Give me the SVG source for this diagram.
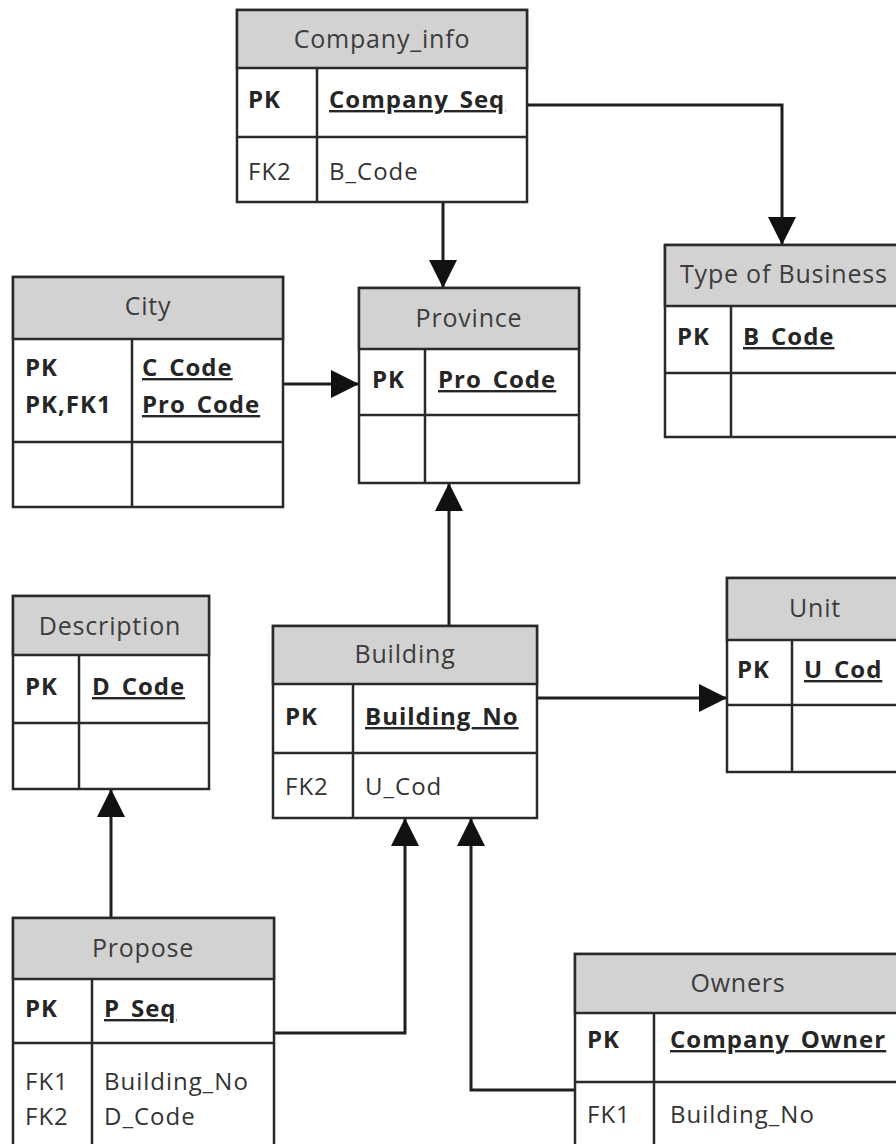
<svg xmlns="http://www.w3.org/2000/svg" width="896" height="1144" viewBox="0 0 896 1144">
  <style>
    .frame { fill: #ffffff; stroke: #2a2a2a; stroke-width: 2.5; }
    .head { fill: #d2d2d2; stroke: #2a2a2a; stroke-width: 2.5; }
    .div { stroke: #2a2a2a; stroke-width: 2.5; fill: none; }
    .title { font-family: "Open Sans", "Liberation Sans", sans-serif; font-size: 25px; letter-spacing: 0.8px; fill: #3c3c3c; text-anchor: middle; }
    .key { font-family: "Open Sans", "Liberation Sans", sans-serif; font-size: 24px; letter-spacing: 1px; font-weight: bold; fill: #262626; }
    .fk { font-family: "Open Sans", "Liberation Sans", sans-serif; font-size: 24px; letter-spacing: 1px; fill: #333333; }
    .pkf { font-family: "Open Sans", "Liberation Sans", sans-serif; font-size: 24px; letter-spacing: 1px; font-weight: bold; fill: #262626; text-decoration: underline; }
    .fld { font-family: "Open Sans", "Liberation Sans", sans-serif; font-size: 24px; letter-spacing: 1px; fill: #333333; }
    .link { stroke: #1e1e1e; stroke-width: 3; fill: none; marker-end: url(#head); }
  </style>
  <defs>
    <marker id="head" viewBox="0 0 28 28" refX="28" refY="14" markerWidth="28" markerHeight="28" markerUnits="userSpaceOnUse" orient="auto">
      <path d="M0,0 L28,14 L0,28 Z" fill="#111111"/>
    </marker>
  </defs>
  <rect width="896" height="1144" fill="#ffffff"/>

  <!-- connectors -->
  <g id="connectors">
    <polyline class="link" points="527,105 782,105 782,245"/>
    <line class="link" x1="443" y1="202" x2="443" y2="288"/>
    <line class="link" x1="283" y1="384" x2="359" y2="384"/>
    <line class="link" x1="449" y1="626" x2="449" y2="483"/>
    <line class="link" x1="537" y1="698" x2="727" y2="698"/>
    <line class="link" x1="111" y1="918" x2="111" y2="789"/>
    <polyline class="link" points="274,1033 405,1033 405,818"/>
    <polyline class="link" points="575,1090 471,1090 471,818"/>
  </g>

  <!-- Company_info -->
  <g id="company_info">
    <rect class="frame" x="237" y="10" width="290" height="192"/>
    <rect class="head" x="237" y="10" width="290" height="58"/>
    <line class="div" x1="237" y1="137" x2="527" y2="137"/>
    <line class="div" x1="317" y1="68" x2="317" y2="202"/>
    <text class="title" x="382" y="48">Company_info</text>
    <text class="key" x="248" y="108">PK</text>
    <text class="pkf" x="329" y="108">Company_Seq</text>
    <text class="fk" x="248" y="180">FK2</text>
    <text class="fld" x="329" y="180">B_Code</text>
  </g>

  <!-- Type of Business -->
  <g id="type_of_business">
    <rect class="frame" x="665" y="245" width="260" height="192"/>
    <rect class="head" x="665" y="245" width="260" height="61"/>
    <line class="div" x1="665" y1="373" x2="925" y2="373"/>
    <line class="div" x1="731" y1="306" x2="731" y2="437"/>
    <text class="title" x="680" y="283" style="text-anchor:start">Type of Business</text>
    <text class="key" x="677" y="345">PK</text>
    <text class="pkf" x="743" y="345">B_Code</text>
  </g>

  <!-- City -->
  <g id="city">
    <rect class="frame" x="13" y="277" width="270" height="230"/>
    <rect class="head" x="13" y="277" width="270" height="62"/>
    <line class="div" x1="13" y1="442" x2="283" y2="442"/>
    <line class="div" x1="132" y1="339" x2="132" y2="507"/>
    <text class="title" x="148" y="315">City</text>
    <text class="key" x="25" y="376">PK</text>
    <text class="key" x="25" y="413">PK,FK1</text>
    <text class="pkf" x="142" y="376">C_Code</text>
    <text class="pkf" x="142" y="413">Pro_Code</text>
  </g>

  <!-- Province -->
  <g id="province">
    <rect class="frame" x="359" y="288" width="220" height="195"/>
    <rect class="head" x="359" y="288" width="220" height="61"/>
    <line class="div" x1="359" y1="415" x2="579" y2="415"/>
    <line class="div" x1="425" y1="349" x2="425" y2="483"/>
    <text class="title" x="469" y="327">Province</text>
    <text class="key" x="372" y="388">PK</text>
    <text class="pkf" x="438" y="388">Pro_Code</text>
  </g>

  <!-- Description -->
  <g id="description">
    <rect class="frame" x="13" y="596" width="196" height="193"/>
    <rect class="head" x="13" y="596" width="196" height="59"/>
    <line class="div" x1="13" y1="723" x2="209" y2="723"/>
    <line class="div" x1="79" y1="655" x2="79" y2="789"/>
    <text class="title" x="110" y="635">Description</text>
    <text class="key" x="25" y="695">PK</text>
    <text class="pkf" x="92" y="695">D_Code</text>
  </g>

  <!-- Building -->
  <g id="building">
    <rect class="frame" x="273" y="626" width="264" height="192"/>
    <rect class="head" x="273" y="626" width="264" height="58"/>
    <line class="div" x1="273" y1="753" x2="537" y2="753"/>
    <line class="div" x1="353" y1="684" x2="353" y2="818"/>
    <text class="title" x="405" y="663">Building</text>
    <text class="key" x="285" y="725">PK</text>
    <text class="pkf" x="365" y="725">Building_No</text>
    <text class="fk" x="285" y="795">FK2</text>
    <text class="fld" x="365" y="795">U_Cod</text>
  </g>

  <!-- Unit -->
  <g id="unit">
    <rect class="frame" x="727" y="578" width="180" height="194"/>
    <rect class="head" x="727" y="578" width="180" height="62"/>
    <line class="div" x1="727" y1="705" x2="907" y2="705"/>
    <line class="div" x1="792" y1="640" x2="792" y2="772"/>
    <text class="title" x="815" y="617">Unit</text>
    <text class="key" x="737" y="678">PK</text>
    <text class="pkf" x="804" y="678">U_Cod</text>
  </g>

  <!-- Propose -->
  <g id="propose">
    <rect class="frame" x="13" y="918" width="261" height="240"/>
    <rect class="head" x="13" y="918" width="261" height="61"/>
    <line class="div" x1="13" y1="1043" x2="274" y2="1043"/>
    <line class="div" x1="92" y1="979" x2="92" y2="1158"/>
    <text class="title" x="143" y="957">Propose</text>
    <text class="key" x="25" y="1017">PK</text>
    <text class="pkf" x="104" y="1017">P_Seq</text>
    <text class="fk" x="25" y="1090">FK1</text>
    <text class="fk" x="25" y="1125">FK2</text>
    <text class="fld" x="104" y="1090">Building_No</text>
    <text class="fld" x="104" y="1125">D_Code</text>
  </g>

  <!-- Owners -->
  <g id="owners">
    <rect class="frame" x="575" y="954" width="330" height="204"/>
    <rect class="head" x="575" y="954" width="330" height="59"/>
    <line class="div" x1="575" y1="1082" x2="905" y2="1082"/>
    <line class="div" x1="654" y1="1013" x2="654" y2="1158"/>
    <text class="title" x="738" y="992">Owners</text>
    <text class="key" x="587" y="1048">PK</text>
    <text class="pkf" x="670" y="1048">Company_Owner</text>
    <text class="fk" x="587" y="1123">FK1</text>
    <text class="fld" x="670" y="1123">Building_No</text>
  </g>
</svg>
